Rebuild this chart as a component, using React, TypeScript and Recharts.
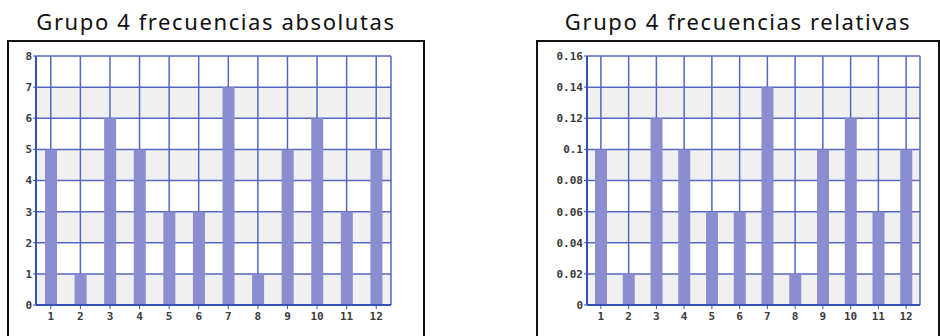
import { BarChart, Bar, XAxis, YAxis, CartesianGrid } from "recharts";

const categories = ["1", "2", "3", "4", "5", "6", "7", "8", "9", "10", "11", "12"];
const absolutas = [5, 1, 6, 5, 3, 3, 7, 1, 5, 6, 3, 5];
const relativas = [0.1, 0.02, 0.12, 0.1, 0.06, 0.06, 0.14, 0.02, 0.1, 0.12, 0.06, 0.1];
const absTicks = [0, 1, 2, 3, 4, 5, 6, 7, 8];
const relTicks = [0, 0.02, 0.04, 0.06, 0.08, 0.1, 0.12, 0.14, 0.16];

const BAR = "#8a8dcf";
const GRID = "#5567c2";
const AXIS = "#3550b8";
const tickStyle = {
  fontFamily: "'DejaVu Sans Mono', monospace",
  fontSize: 11,
  fontWeight: 700,
  fill: "#3a3a3a",
};

const fmt = (v: number) => String(Number(v.toFixed(2)));

interface PanelProps {
  title: string;
  values: number[];
  ticks: number[];
  boxLeft: number;
  boxWidth: number;
  chartLeft: number;
  chartWidth: number;
  yWidth: number;
}

function Panel({ title, values, ticks, boxLeft, boxWidth, chartLeft, chartWidth, yWidth }: PanelProps) {
  const data = categories.map((c, i) => ({ cat: c, v: values[i] }));
  const max = ticks[ticks.length - 1];
  return (
    <>
      {/* title */}
      <div
        style={{
          position: "absolute",
          left: boxLeft,
          width: boxWidth,
          top: 6,
          textAlign: "center",
          fontFamily: "'Noto Sans', sans-serif",
          fontSize: 22,
          letterSpacing: 1.6,
          color: "#111",
          whiteSpace: "nowrap",
        }}
      >
        {title}
      </div>
      {/* black frame, runs past the bottom */}
      <div
        style={{
          position: "absolute",
          left: boxLeft,
          top: 40,
          width: boxWidth - 4,
          height: 320,
          border: "2px solid #111",
          background: "#fff",
        }}
      />
      <div style={{ position: "absolute", left: chartLeft, top: 48 }}>
        <BarChart
          width={chartWidth}
          height={280}
          data={data}
          margin={{ top: 8, right: 17, bottom: 3, left: 0 }}
          barCategoryGap={0}
        >
          <CartesianGrid
            stroke={GRID}
            strokeWidth={1.5}
            horizontalFill={["#ffffff", "#f0f0f0"]}
            fillOpacity={1}
          />
          <XAxis
            dataKey="cat"
            tick={tickStyle}
            tickLine={{ stroke: AXIS }}
            tickSize={4}
            tickMargin={3}
            axisLine={{ stroke: AXIS, strokeWidth: 2 }}
            height={20}
            interval={0}
          />
          <YAxis
            domain={[0, max]}
            ticks={ticks}
            tickFormatter={fmt}
            tick={tickStyle}
            tickLine={{ stroke: AXIS }}
            tickSize={3}
            tickMargin={1}
            axisLine={{ stroke: AXIS, strokeWidth: 2 }}
            width={yWidth}
            interval={0}
          />
          <YAxis
            yAxisId="edge"
            orientation="right"
            domain={[0, max]}
            tick={false}
            tickLine={false}
            axisLine={{ stroke: GRID, strokeWidth: 1.5 }}
            width={0}
          />
          <Bar dataKey="v" fill={BAR} barSize={12} isAnimationActive={false} />
        </BarChart>
      </div>
    </>
  );
}

export default function App() {
  return (
    <div
      style={{
        position: "absolute",
        left: 0,
        top: 0,
        width: 940,
        height: 336,
        overflow: "hidden",
        background: "#fff",
      }}
    >
      <Panel
        title="Grupo 4 frecuencias absolutas"
        values={absolutas}
        ticks={absTicks}
        boxLeft={7}
        boxWidth={418}
        chartLeft={8}
        chartWidth={400}
        yWidth={28}
      />
      <Panel
        title="Grupo 4 frecuencias relativas"
        values={relativas}
        ticks={relTicks}
        boxLeft={536}
        boxWidth={404}
        chartLeft={540}
        chartWidth={397}
        yWidth={47}
      />
    </div>
  );
}
